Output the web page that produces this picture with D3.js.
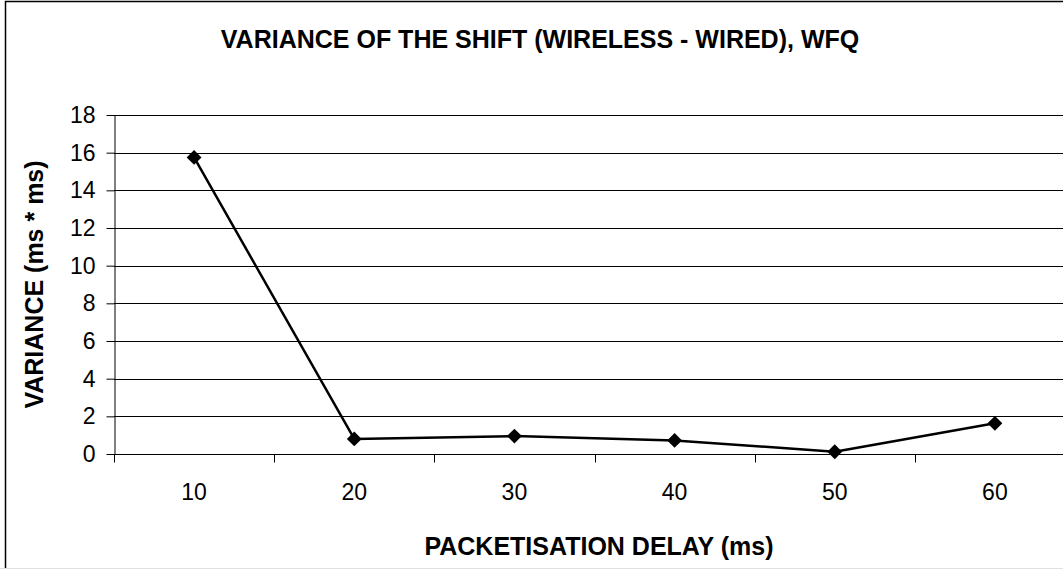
<!DOCTYPE html>
<html>
<head>
<meta charset="utf-8">
<script src="https://cdn.jsdelivr.net/npm/d3@7"></script>
<style>
  html, body { margin: 0; padding: 0; background: #fff; }
  svg { display: block; }
  text { font-family: "Liberation Sans", Arial, sans-serif; fill: #000; }
</style>
</head>
<body>
<svg id="chart" width="1063" height="569"></svg>
<script>
// Packetisation delay categories (ms) and variance of the wireless-wired shift (ms*ms)
const categories = ["10", "20", "30", "40", "50", "60"];
const variance = [15.75, 0.80, 0.95, 0.72, 0.12, 1.63];
const yTicks = [0, 2, 4, 6, 8, 10, 12, 14, 16, 18];

const chartTitle = "VARIANCE OF THE SHIFT (WIRELESS - WIRED), WFQ";
const xTitle = "PACKETISATION DELAY (ms)";
const yTitle = "VARIANCE (ms * ms)";

const svg = d3.select("#chart");
const W = 1063, H = 569;
const plot = { left: 114, right: 1075, top: 115, bottom: 454 };

// outer chart frame
svg.append("rect")
  .attr("x", 5.5).attr("y", 1.5)
  .attr("width", 1100).attr("height", 600)
  .attr("fill", "#fff").attr("stroke", "#000").attr("stroke-width", 1.5);
svg.append("line")
  .attr("x1", 0).attr("x2", W).attr("y1", 568.5).attr("y2", 568.5)
  .attr("stroke", "#e0e0e0").attr("stroke-width", 1);

const x = d3.scaleBand().domain(categories).range([plot.left, plot.right]).padding(0);
const y = d3.scaleLinear().domain([0, 18]).range([plot.bottom, plot.top]);

// horizontal gridlines
svg.append("g")
  .selectAll("line")
  .data(yTicks.filter(d => d > 0))
  .join("line")
  .attr("x1", plot.left).attr("x2", plot.right)
  .attr("y1", d => Math.round(y(d)) + 0.5).attr("y2", d => Math.round(y(d)) + 0.5)
  .attr("stroke", "#000").attr("stroke-width", 1);

// y axis
const yAxis = svg.append("g")
  .attr("transform", `translate(${plot.left + 0.5},0)`)
  .call(d3.axisLeft(y).tickValues(yTicks).tickSize(8).tickSizeOuter(0).tickPadding(11));
yAxis.select(".domain").attr("stroke", "#000");
yAxis.selectAll(".tick line").attr("stroke", "#000");
yAxis.selectAll(".tick text")
  .style("font-family", '"Liberation Sans", Arial, sans-serif')
  .style("font-size", "23px").attr("fill", "#000");

// x axis: ticks at category boundaries, labels centred in each band
const xAxisG = svg.append("g")
  .attr("transform", `translate(0,${plot.bottom + 0.5})`);
xAxisG.append("line")
  .attr("x1", plot.left).attr("x2", plot.right)
  .attr("stroke", "#000");
xAxisG.selectAll(".bound")
  .data(categories)
  .join("line")
  .attr("class", "bound")
  .attr("x1", d => Math.round(x(d)) + 0.5).attr("x2", d => Math.round(x(d)) + 0.5)
  .attr("y1", 0).attr("y2", 8)
  .attr("stroke", "#000");
xAxisG.selectAll(".lbl")
  .data(categories)
  .join("text")
  .attr("class", "lbl")
  .attr("x", d => x(d) + x.bandwidth() / 2)
  .attr("y", 45)
  .attr("text-anchor", "middle")
  .style("font-size", "23px")
  .text(d => d);

// data line
const line = d3.line()
  .x((d, i) => x(categories[i]) + x.bandwidth() / 2)
  .y(d => y(d));
svg.append("path")
  .datum(variance)
  .attr("d", line)
  .attr("fill", "none")
  .attr("stroke", "#000")
  .attr("stroke-width", 2.5)
  .attr("stroke-linejoin", "round");

// diamond markers
const diamond = d3.symbol().type(d3.symbolSquare).size(110);
svg.append("g")
  .selectAll("path")
  .data(variance)
  .join("path")
  .attr("d", diamond)
  .attr("transform", (d, i) => `translate(${x(categories[i]) + x.bandwidth() / 2},${y(d)}) rotate(45)`)
  .attr("fill", "#000");

// titles
svg.append("text")
  .attr("x", 540).attr("y", 48)
  .attr("text-anchor", "middle")
  .style("font-size", "25px").style("font-weight", "bold")
  .text(chartTitle);

svg.append("text")
  .attr("x", 599).attr("y", 555)
  .attr("text-anchor", "middle")
  .style("font-size", "25px").style("font-weight", "bold")
  .text(xTitle);

svg.append("text")
  .attr("transform", `translate(43,${(plot.top + plot.bottom) / 2}) rotate(-90)`)
  .attr("text-anchor", "middle")
  .style("font-size", "25px").style("font-weight", "bold")
  .text(yTitle);
</script>
</body>
</html>
